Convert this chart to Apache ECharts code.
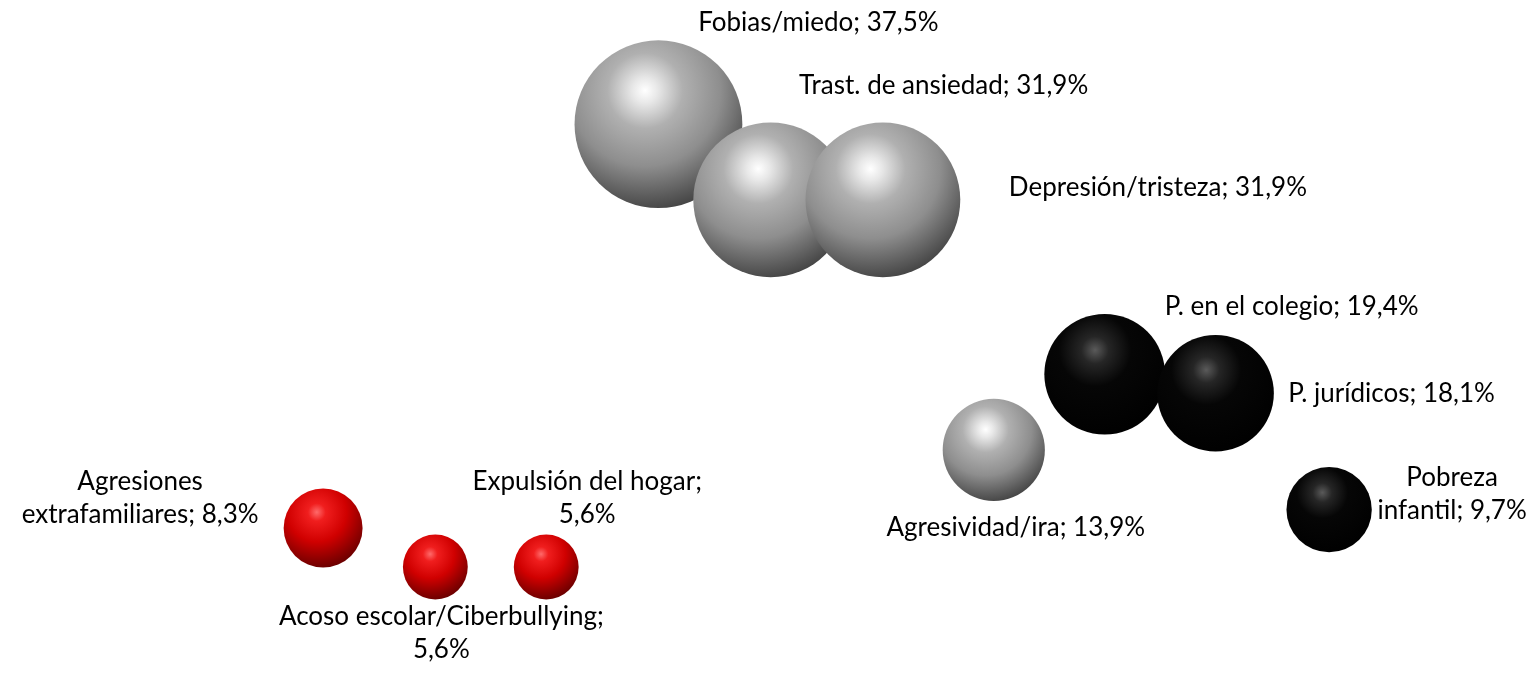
<!DOCTYPE html>
<html>
<head>
<meta charset="utf-8">
<script src="https://cdn.jsdelivr.net/npm/echarts@6/dist/echarts.min.js"></script>
<style>
  html, body { margin: 0; padding: 0; background: #fff; }
  #main { width: 1536px; height: 690px; }
</style>
</head>
<body>
<div id="main"></div>
<script>
// datos del gráfico de burbujas
const names = ['Fobias/miedo', 'Trast. de ansiedad', 'Depresión/tristeza', 'P. en el colegio', 'P. jurídicos',
  'Agresividad/ira', 'Pobreza\ninfantil', 'Agresiones\nextrafamiliares', 'Acoso escolar/Ciberbullying', 'Expulsión del hogar']
const values = [37.5, 31.9, 31.9, 19.4, 18.1, 13.9, 9.7, 8.3, 5.6, 5.6]
const xVals = [4.18, 5.02, 5.86, 7.52, 8.35, 6.69, 9.20, 1.67, 2.51, 3.34]
const yVals = [8.62, 7.38, 7.38, 4.52, 4.21, 3.28, 2.30, 2.00, 1.36, 1.36]
const groups = ['gris', 'gris', 'gris', 'negro', 'negro', 'gris', 'negro', 'rojo', 'rojo', 'rojo']

// posición de cada etiqueta respecto al centro de la burbuja
const labelOffsets = [[160, -102], [173, -114], [275, -12], [187, -68], [176, 0],
  [22, 78], [123, -16], [-183, -30], [6, 66], [41, -69]]
const valueOnNewLine = [false, false, false, false, false, false, false, false, true, true]

// degradados para dar efecto 3D
const fills = {
  gris: [[0, '#ffffff'], [0.1, '#e8e8e8'], [0.3, '#b0b0b0'], [0.6, '#8e8e8e'], [0.85, '#5a5a5a'], [1, '#3c3c3c']],
  negro: [[0, '#5a5a5a'], [0.15, '#262626'], [0.4, '#060606'], [1, '#000000']],
  rojo: [[0, '#ff6a6a'], [0.15, '#f01e1e'], [0.5, '#d00000'], [0.8, '#8c0000'], [1, '#600000']]
}

function fmt(v) {
  return v.toFixed(1).replace('.', ',') + '%'
}

const data = values.map((v, i) => ({
  value: [xVals[i], yVals[i], v],
  name: names[i],
  itemStyle: {
    opacity: 1,
    color: {
      type: 'radial', x: 0.42, y: 0.3, r: 0.75,
      colorStops: fills[groups[i]].map(s => ({ offset: s[0], color: s[1] }))
    }
  },
  label: {
    offset: labelOffsets[i],
    formatter: names[i] + ';' + (valueOnNewLine[i] ? '\n' : ' ') + fmt(v)
  }
}))

const chart = echarts.init(document.getElementById('main'))
chart.setOption({
  animation: false,
  grid: { left: 100, right: 100, top: 40, bottom: 40 },
  xAxis: { type: 'value', min: 0, max: 10, show: false },
  yAxis: { type: 'value', min: 0, max: 10, show: false },
  series: [{
    type: 'scatter',
    symbol: 'circle',
    symbolSize: function (val) {
      return 27.4 * Math.sqrt(val[2])
    },
    itemStyle: { opacity: 1 },
    label: {
      show: true,
      position: 'inside',
      align: 'center',
      verticalAlign: 'middle',
      color: '#000',
      fontFamily: 'Lato',
      fontSize: 26,
      lineHeight: 33
    },
    data: data
  }]
})
</script>
</body>
</html>
